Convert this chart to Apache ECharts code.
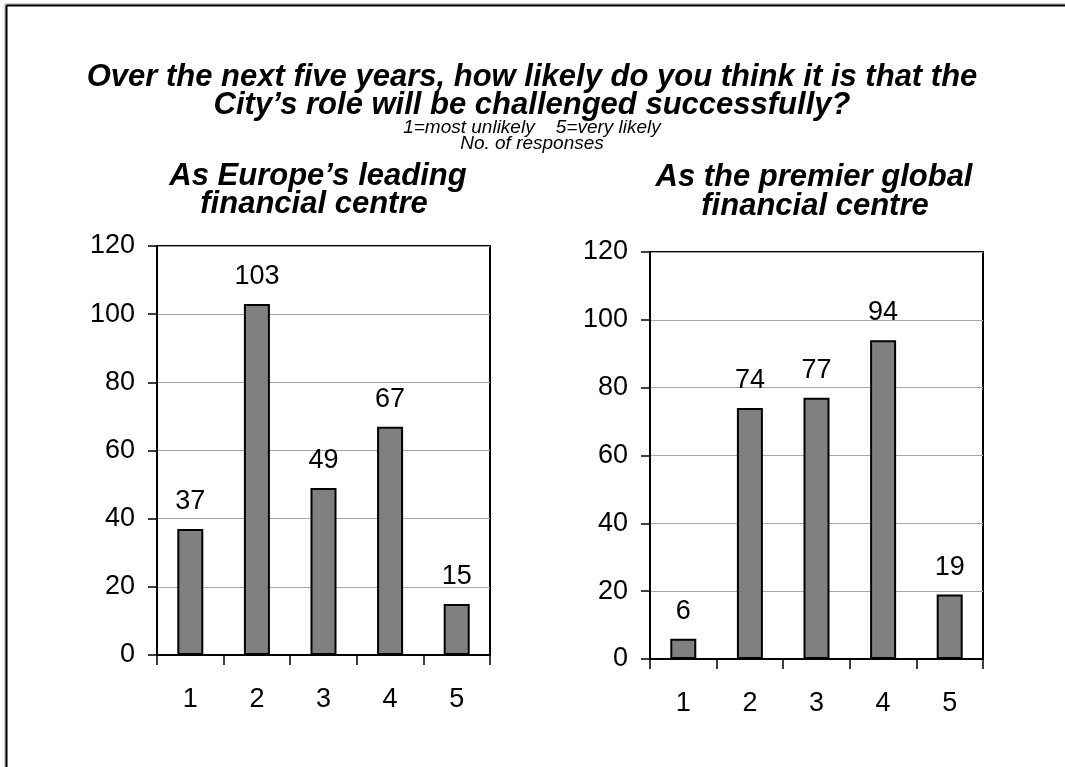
<!DOCTYPE html>
<html>
<head>
<meta charset="utf-8">
<script src="https://cdn.jsdelivr.net/npm/echarts@6/dist/echarts.min.js"></script>
<style>
  html, body { margin: 0; padding: 0; background: #fff; }
  #chart { width: 1065px; height: 767px; }
</style>
</head>
<body>
<div id="chart"></div>
<script>
// Survey answers: 1 = most unlikely ... 5 = very likely
const categories = ['1', '2', '3', '4', '5'];
const europeValues = [37, 103, 49, 67, 15];
const globalValues = [6, 74, 77, 94, 19];
const yMin = 0;
const yMax = 120;
const yStep = 20;

const titleLines = [
  'Over the next five years, how likely do you think it is that the',
  'City\u2019s role will be challenged successfully?'
];
const noteLines = ['1=most unlikely    5=very likely', 'No. of responses'];
const europeTitle = ['As Europe\u2019s leading', 'financial centre'];
const globalTitle = ['As the premier global', 'financial centre'];

const FONT = '"Liberation Sans", Arial, Helvetica, sans-serif';

function yAxisFor(gridIndex) {
  return {
    type: 'value', gridIndex, min: yMin, max: yMax, interval: yStep,
    axisLine: { show: true, lineStyle: { color: '#000', width: 2 } },
    axisTick: { show: true, length: 9, lineStyle: { color: '#000', width: 1.5 } },
    splitLine: { show: true, lineStyle: { color: '#a6a6a6', width: 1 } },
    axisLabel: { color: '#000', fontFamily: FONT, fontSize: 27, margin: 22 }
  };
}

function xAxisFor(gridIndex) {
  return {
    type: 'category', gridIndex, data: categories,
    axisLine: { show: true, lineStyle: { color: '#000', width: 2 } },
    axisTick: { show: true, length: 10, alignWithLabel: false, lineStyle: { color: '#000', width: 1.5 } },
    axisLabel: { color: '#000', fontFamily: FONT, fontSize: 27, margin: 31 },
    splitLine: { show: false }
  };
}

function barSeries(idx, values) {
  return {
    type: 'bar', xAxisIndex: idx, yAxisIndex: idx, data: values,
    barWidth: 26,
    itemStyle: { color: '#808080', borderColor: '#000', borderWidth: 2 },
    label: {
      show: true, position: 'top', distance: 14, color: '#000',
      fontFamily: FONT, fontSize: 27
    },
    silent: true
  };
}

function textEl(str, x, y, size, bold) {
  return {
    type: 'text', x, y, silent: true,
    style: {
      text: str, x: 0, y: 0, align: 'center', verticalAlign: 'middle',
      fill: '#000', fontFamily: FONT, fontSize: size,
      fontStyle: 'italic', fontWeight: bold ? 'bold' : 'normal'
    }
  };
}

const chart = echarts.init(document.getElementById('chart'), null, { renderer: 'canvas' });

chart.setOption({
  backgroundColor: '#fff',
  animation: false,
  grid: [
    { left: 157, top: 246, width: 333, height: 409, show: true, borderColor: '#000', borderWidth: 2, backgroundColor: 'transparent' },
    { left: 650, top: 252, width: 333, height: 407, show: true, borderColor: '#000', borderWidth: 2, backgroundColor: 'transparent' }
  ],
  xAxis: [xAxisFor(0), xAxisFor(1)],
  yAxis: [yAxisFor(0), yAxisFor(1)],
  series: [barSeries(0, europeValues), barSeries(1, globalValues)],
  graphic: [
    // frame along the top and left edges
    { type: 'line', silent: true, shape: { x1: 5, y1: 4, x2: 1065, y2: 4 }, style: { stroke: '#9a9a9a', lineWidth: 1 } },
    { type: 'line', silent: true, shape: { x1: 5, y1: 4, x2: 5, y2: 767 }, style: { stroke: '#9a9a9a', lineWidth: 1 } },
    { type: 'line', silent: true, shape: { x1: 6.5, y1: 5.5, x2: 1065, y2: 5.5 }, style: { stroke: '#000', lineWidth: 2 } },
    { type: 'line', silent: true, shape: { x1: 6.5, y1: 5.5, x2: 6.5, y2: 767 }, style: { stroke: '#000', lineWidth: 2 } },
    textEl(titleLines[0], 532, 77, 31, true),
    textEl(titleLines[1], 532, 105, 31, true),
    textEl(noteLines[0], 532, 128, 19, false),
    textEl(noteLines[1], 532, 144, 19, false),
    textEl(europeTitle[0], 318, 176, 31, true),
    textEl(europeTitle[1], 314, 204, 31, true),
    textEl(globalTitle[0], 814, 177, 31, true),
    textEl(globalTitle[1], 815, 206, 31, true)
  ]
});
</script>
</body>
</html>
